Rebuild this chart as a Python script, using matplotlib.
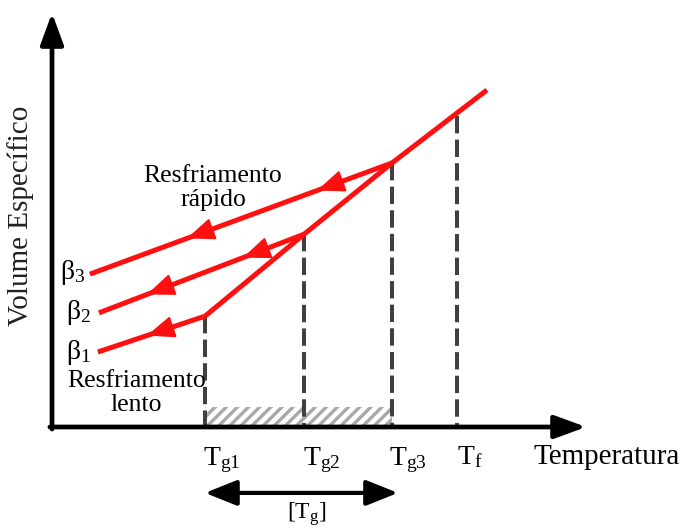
import numpy as np
import matplotlib
matplotlib.use("Agg")
import matplotlib.pyplot as plt
from matplotlib.patches import Rectangle

plt.rcParams['font.family'] = ['Liberation Serif', 'DejaVu Serif']
plt.rcParams['mathtext.fontset'] = 'custom'
plt.rcParams['mathtext.rm'] = 'Liberation Serif'
plt.rcParams['mathtext.it'] = 'Liberation Serif:italic'
plt.rcParams['lines.scale_dashes'] = False
plt.rcParams['hatch.linewidth'] = 2.4
plt.rcParams['hatch.color'] = '#a8a8a8'

# ---- data (schematic units) ----
Tg = [28.7, 47.3, 63.8]            # glass transition temperatures Tg1..Tg3
Vg = [26.9, 46.8, 64.1]            # specific volume at each Tg
Tf = 76.0                          # melting temperature
Vf = 75.5
liq_x = [28.7, 47.3, 63.8, 81.6]   # liquid / supercooled-liquid line
liq_y = [26.9, 46.8, 64.1, 81.8]
glass_end_x = [8.6, 8.8, 7.1]      # glass lines β1..β3 (low-T end)
glass_end_y = [18.2, 27.7, 37.1]
arrow_x = [[17.8], [17.8, 35.8], [25.3, 49.7]]
beta_labels = ['β$_1$', 'β$_2$', 'β$_3$']
tg_labels = ['T$_{\\rm g1}$', 'T$_{\\rm g2}$', 'T$_{\\rm g3}$']
hatch_top = 4.9

RED = '#ff0f0f'

fig = plt.figure(figsize=(6.89, 5.29), dpi=100)
ax = fig.add_axes([0, 0, 1, 1])
ax.set_xlim(-9.76, 119.5)
ax.set_ylim(-24.76, 103.64)
ax.axis('off')

# axes arrows
ax.annotate('', xy=(100.2, 0), xytext=(-0.4, 0),
            arrowprops=dict(arrowstyle='-|>,head_length=0.6,head_width=0.22',
                            mutation_scale=32, lw=3.4, color='black',
                            shrinkA=0, shrinkB=0), zorder=5)
ax.annotate('', xy=(0, 100.5), xytext=(0, -0.5),
            arrowprops=dict(arrowstyle='-|>,head_length=0.6,head_width=0.22',
                            mutation_scale=32, lw=3.4, color='black',
                            shrinkA=0, shrinkB=0), zorder=5)

# hatched Tg range
ax.add_patch(Rectangle((Tg[0], 0.4), Tg[2] - Tg[0], hatch_top - 0.4,
                       facecolor='none', edgecolor='#a8a8a8', hatch='///',
                       linewidth=0, zorder=2))

# dashed drop lines
for x, y in zip(Tg + [Tf], Vg + [Vf]):
    ax.plot([x, x], [y, 0], color='#404040', lw=2.9, dashes=(12.5, 4.5),
            solid_capstyle='butt', dash_capstyle='butt', zorder=3)

# liquid line
ax.plot(liq_x, liq_y, color=RED, lw=3.6, solid_capstyle='butt', zorder=4)

# glass lines with arrows
for i in range(3):
    xs = [glass_end_x[i], Tg[i]]
    ys = [glass_end_y[i], Vg[i]]
    ax.plot(xs, ys, color=RED, lw=3.6, solid_capstyle='butt', zorder=4)
    for xa in arrow_x[i]:
        ya = np.interp(xa, xs, ys)
        xb = xa + 4.0
        yb = np.interp(xb, xs, ys)
        ax.annotate('', xy=(xa, ya), xytext=(xb, yb),
                    arrowprops=dict(arrowstyle='-|>,head_length=0.75,head_width=0.3',
                                    mutation_scale=23, lw=1.5, color=RED,
                                    shrinkA=0, shrinkB=0), zorder=4)

# beta labels
beta_pos = [(4.9, 18.2), (4.9, 27.7), (3.9, 37.4)]
for (bx, by), lab in zip(beta_pos, beta_labels):
    ax.text(bx, by, lab, fontsize=20, ha='center', va='center')

# annotations
ax.text(30.2, 58.1, 'Resfriamento\nrápido', fontsize=18.5, ha='center',
        va='center', linespacing=1.12)
ax.text(15.8, 8.3, 'Resfriamento\nlento', fontsize=18.5, ha='center',
        va='center', linespacing=1.12)

# T labels
for x, lab in zip([31.9, 50.7, 66.8], tg_labels):
    ax.text(x, -9.2, lab, fontsize=20, ha='center', va='baseline')
ax.text(78.4, -8.9, 'T$_{\\rm f}$', fontsize=20, ha='center', va='baseline')
ax.text(104.1, -9.0, 'Temperatura', fontsize=21, ha='center', va='baseline')
ax.text(-6.0, 51.2, 'Volume Específico', fontsize=21, rotation=90,
        ha='center', va='center', color='#222222')

# [Tg] range arrow
ax.annotate('', xy=(Tg[0], -16.0), xytext=(64.9, -16.0),
            arrowprops=dict(arrowstyle='<|-|>,head_length=0.75,head_width=0.3',
                            mutation_scale=26, lw=3.0, color='black',
                            shrinkA=0, shrinkB=0))
ax.text(47.8, -24.4, '[T$_{\\rm g}$]', fontsize=17, ha='center', va='bottom')

fig.savefig('out.png', dpi=100)
